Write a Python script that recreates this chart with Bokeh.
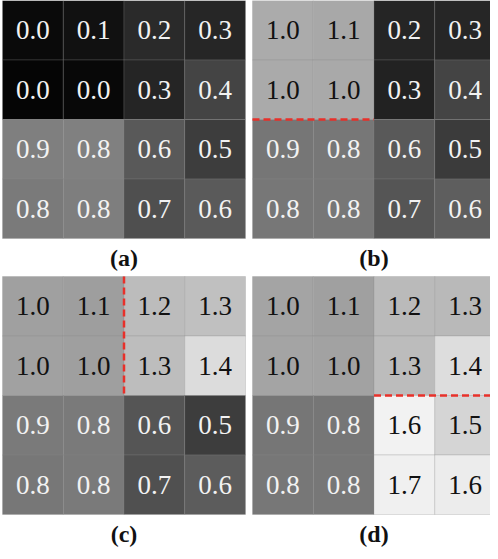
from bokeh.plotting import figure
from bokeh.models import Range1d, ColumnDataSource
from bokeh.core.properties import value
from bokeh.embed import file_html
from bokeh.resources import INLINE

# ---- data ----
panel_labels = ["(a)", "(b)", "(c)", "(d)"]

values_a = [[0.0, 0.1, 0.2, 0.3], [0.0, 0.0, 0.3, 0.4], [0.9, 0.8, 0.6, 0.5], [0.8, 0.8, 0.7, 0.6]]
values_b = [[1.0, 1.1, 0.2, 0.3], [1.0, 1.0, 0.3, 0.4], [0.9, 0.8, 0.6, 0.5], [0.8, 0.8, 0.7, 0.6]]
values_c = [[1.0, 1.1, 1.2, 1.3], [1.0, 1.0, 1.3, 1.4], [0.9, 0.8, 0.6, 0.5], [0.8, 0.8, 0.7, 0.6]]
values_d = [[1.0, 1.1, 1.2, 1.3], [1.0, 1.0, 1.3, 1.4], [0.9, 0.8, 1.6, 1.5], [0.8, 0.8, 1.7, 1.6]]

# grey level (0-255) of each cell as seen in the picture
shade_a = [[10, 17, 42, 38], [5, 8, 37, 68], [127, 128, 89, 61], [122, 126, 79, 90]]
shade_b = [[171, 168, 37, 38], [170, 169, 34, 68], [118, 119, 89, 59], [119, 119, 85, 94]]
shade_c = [[160, 158, 188, 192], [161, 159, 189, 220], [122, 122, 85, 61], [119, 122, 80, 92]]
shade_d = [[164, 160, 186, 185], [164, 162, 188, 221], [118, 118, 242, 213], [119, 119, 240, 236]]

# red dashed boundary per panel: (orientation, index of grid line, from, to) in cell units
boundary_b = ("h", 2, 0, 2)
boundary_c = ("v", 2, 0, 2)
boundary_d = ("h", 2, 2, 4)

panels = [
    (values_a, shade_a, None),
    (values_b, shade_b, boundary_b),
    (values_c, shade_c, boundary_c),
    (values_d, shade_d, boundary_d),
]

# ---- layout (canvas pixels) ----
W, H = 490, 551
CW, CH = 60.75, 59.5
origins = [(2, 0), (252, 0), (2, 276), (252, 276)]
label_y = [257, 257, 533, 533]

p = figure(width=W, height=H, output_backend="svg", toolbar_location=None,
           x_range=Range1d(0, W), y_range=Range1d(H, 0),
           min_border=0, min_border_left=0, min_border_right=0,
           min_border_top=0, min_border_bottom=0)
p.axis.visible = False
p.grid.visible = False
p.outline_line_color = None
p.background_fill_color = "white"
p.border_fill_color = "white"

for (vals, shades, bnd), (ox, oy), lab, ly in zip(panels, origins, panel_labels, label_y):
    xs, ys, cols, txt, tcol = [], [], [], [], []
    for r in range(4):
        for c in range(4):
            g = shades[r][c]
            xs.append(ox + (c + 0.5) * CW)
            ys.append(oy + (r + 0.5) * CH)
            cols.append("#%02x%02x%02x" % (g, g, g))
            txt.append("%.1f" % vals[r][c])
            tcol.append("#111111" if g > 140 else "#f2f2f2")
    src = ColumnDataSource(dict(x=xs, y=ys, fill=cols, text=txt, tcol=tcol))
    p.rect(x="x", y="y", width=CW, height=CH, source=src, fill_color="fill",
           line_color="#888888", line_alpha=0.25, line_width=1)
    p.text(x="x", y="y", text="text", source=src, text_color="tcol",
           text_font=value("Liberation Serif"), text_font_size="27px",
           text_align="center", text_baseline="middle")
    p.text(x=[ox + 2 * CW], y=[ly], text=[lab], text_color="#111111",
           text_font=value("Liberation Serif"), text_font_size="24px",
           text_font_style="bold", text_align="center", text_baseline="middle")
    if bnd is not None:
        kind, k, a, b = bnd
        if kind == "h":
            p.line(x=[ox + a * CW, ox + b * CW], y=[oy + k * CH, oy + k * CH],
                   line_color="#e8302a", line_width=2.5, line_dash="7 4")
        else:
            p.line(x=[ox + k * CW, ox + k * CW], y=[oy + a * CH, oy + b * CH],
                   line_color="#e8302a", line_width=2.5, line_dash="7 4")

open("out.html", "w").write(file_html(p, INLINE))
